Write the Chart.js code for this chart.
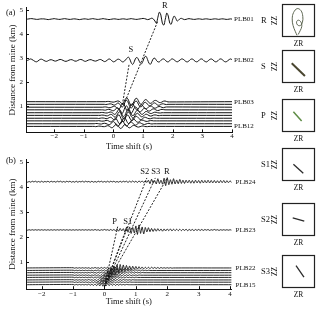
<!DOCTYPE html>
<html>
<head>
<meta charset="utf-8">
<script src="https://cdn.jsdelivr.net/npm/chart.js@4.4.1/dist/chart.umd.min.js"></script>
<style>
  html, body { margin: 0; padding: 0; background: #fff; }
  #wrap { position: relative; width: 320px; height: 310px; overflow: hidden; }
  #wrap canvas { position: absolute; }
</style>
</head>
<body>
<div id="wrap">
  <canvas id="panelA" width="270" height="156" style="left:0;top:0"></canvas>
  <canvas id="panelB" width="270" height="160" style="left:0;top:150px"></canvas>
</div>
<script>
// ---------- panel (a) : PLB01 - PLB12 ----------
const aNames = ['PLB01', 'PLB02', 'PLB03', 'PLB04', 'PLB05', 'PLB06', 'PLB07', 'PLB08', 'PLB09', 'PLB10', 'PLB11', 'PLB12'];
const aDist = [4.62, 2.9, 1.18, 1.07, 0.95, 0.84, 0.72, 0.61, 0.49, 0.38, 0.26, 0.15];
const aStart = [-2.9, -2.9, -0.26, -0.31, -0.36, -0.41, -0.46, -0.5, -0.55, -0.6, -0.65, -0.7];
// trace wiggle, 0.01 km, one value every 0.05 s from aStart
const aWiggle = [
  [0,1,2,2,1,0,-1,-1,0,1,1,1,0,-1,-2,-1,0,1,2,1,
   0,-1,-1,0,1,2,1,0,-1,-1,0,1,1,0,-1,-2,-1,0,1,1,
   0,-1,0,1,2,1,0,-1,-1,0,1,2,1,0,-1,-2,-1,0,1,1,
   0,-1,-1,0,1,1,0,-1,0,1,2,1,0,-1,-1,0,1,2,3,2,
   0,-2,-1,2,4,0,-8,-17,8,29,17,-17,-25,0,25,13,-17,-21,0,13,
   4,-8,-4,2,3,0,-2,-1,1,2,1,0,-1,-1,0,1,1,0,-1,0,
   1,1,0,-1,-1,0,1,1,0,-1,0,1,1,0,-1,-1,0,1,0],
  [0,3,6,4,0,-4,-6,-3,2,5,4,0,-3,-4,-1,2,3,1,-2,-3,
   -1,2,4,3,0,-3,-4,-2,1,3,3,0,-3,-3,0,3,4,2,-2,-4,
   -2,1,3,3,0,-2,-3,-1,2,4,2,-2,-5,-3,2,6,4,-2,-6,-4,
   1,5,4,-1,-6,-5,1,8,14,6,-10,-17,-6,9,12,2,-10,-14,-2,14,
   17,4,-12,-16,-4,8,9,0,-6,-6,0,5,6,1,-5,-6,-1,5,6,2,
   -3,-6,-3,2,6,5,0,-5,-6,-2,4,6,3,-3,-6,-4,2,6,5,-1,
   -5,-6,-1,4,6,3,-3,-6,-4,2,6,5,0,-5,-6,-2,3,6,3],
  [0,1,1,0,-1,-2,-1,1,3,2,-3,-9,-4,8,16,11,-4,-15,-13,0,12,14,4,-8,-11,-4,5,9,5,-3,-7,-5,1,5,5,1,-3,-4,-1,2,3,1,-1,-1],
  [0,-1,0,1,2,1,-2,-3,0,5,4,-5,-12,-6,9,17,10,-6,-16,-11,3,13,12,1,-9,-10,-2,7,8,2,-5,-7,-2,4,6,2,-3,-4,-1,2,2,0,-1,0],
  [0,1,1,0,-2,-2,0,3,4,0,-6,-8,1,13,15,3,-12,-16,-5,10,15,7,-6,-12,-7,4,10,6,-3,-7,-5,2,5,4,-1,-4,-3,1,3,2,-1,-2,0,1],
  [0,0,-1,-1,1,2,1,-2,-4,-1,5,9,2,-10,-16,-6,10,17,8,-8,-15,-9,5,12,8,-3,-9,-6,2,7,5,-2,-5,-4,1,4,3,-1,-3,-2,1,2,1,0],
  [0,1,1,0,-1,-1,1,3,2,-3,-7,-3,7,15,9,-7,-16,-11,5,15,12,-2,-12,-10,1,9,8,0,-6,-6,0,5,4,0,-3,-3,0,2,2,0,-1,-1,0,0],
  [0,0,1,1,0,-2,-2,1,4,3,-3,-8,-4,8,15,8,-8,-15,-8,7,14,9,-4,-11,-7,3,9,6,-2,-6,-4,2,5,3,-1,-3,-2,1,2,1,-1,-1,0,0],
  [0,-1,0,1,1,0,-2,-1,2,4,1,-5,-7,1,12,13,0,-13,-14,0,12,12,1,-9,-9,0,7,7,0,-5,-5,0,4,3,0,-2,-2,0,1,1,0,0,0,0],
  [0,0,1,0,-1,-1,0,2,2,-1,-4,-3,3,9,8,-3,-12,-11,2,13,11,-2,-11,-9,1,8,7,0,-5,-5,0,3,3,0,-2,-2,0,1,1,0,0,0,0,0],
  [0,1,1,0,-1,-1,1,2,1,-2,-4,-1,5,9,4,-6,-11,-5,7,12,5,-6,-10,-4,5,8,3,-4,-6,-2,3,4,1,-2,-3,-1,1,2,0,-1,0,0,0,0],
  [0,0,-1,0,1,1,0,-1,-1,1,3,2,-3,-6,-2,5,9,4,-5,-9,-4,5,8,3,-4,-6,-2,3,4,1,-2,-3,-1,1,2,0,-1,-1,0,0,0,0,0,0]
];
const aLabelled = ['PLB01', 'PLB02', 'PLB03', 'PLB12'];
const aPhases = ['S', 'R'];
const aPhaseT = [0.59, 1.73];
const aPhaseD = [3.33, 5.17];
const aRayFrom = [[0.3, 1.05], [0.35, 1.05]];
const aRayTo = [[0.53, 2.75], [1.5, 4.55]];

// ---------- panel (b) : PLB15 - PLB24 ----------
const bNames = ['PLB24', 'PLB23', 'PLB22', 'PLB21', 'PLB20', 'PLB19', 'PLB18', 'PLB17', 'PLB16', 'PLB15'];
const bDist = [4.2, 2.27, 0.75, 0.65, 0.56, 0.46, 0.37, 0.27, 0.18, 0.08];
const bStart = [-2.5, -2.5, -1, -1, -1, -1, -1, -1, -1, -1];
const bWiggle = [
  [2,-2,1,-2,2,-1,2,-2,1,-2,2,-2,1,-1,2,-2,2,-1,1,-2,
   2,-1,2,-2,1,-2,2,-1,2,-2,1,-2,2,-2,1,-1,2,-2,2,-1,
   1,-2,2,-2,1,-2,2,-1,2,-2,1,-2,2,-2,2,-1,2,-2,1,-2,
   2,-2,2,-1,2,-3,2,-2,3,-2,2,-3,3,-2,3,-3,4,-3,6,-8,
   10,-6,4,-9,12,-8,6,-10,14,-16,16,-12,8,-10,12,-9,7,-8,9,-7,
   6,-7,6,-5,6,-6,5,-6,6,-5,5,-6,6,-5,5,-5,6,-5,5,-5,
   5,-5,4,-5,5,-4,5,-5,4,-4,4,-4],
  [1,-1,1,-1,1,-1,1,-1,1,-1,1,-1,1,-1,1,-1,1,-1,1,-1,
   1,-1,1,-1,1,-1,1,-1,1,-1,1,-1,1,-1,1,-1,1,-1,1,-1,
   1,-1,1,-1,2,-1,1,-2,1,-1,2,-1,1,-2,2,-2,2,-3,4,-5,
   6,-4,5,-8,10,-9,12,-14,10,-12,16,-18,20,-14,12,-16,10,-8,9,-7,
   6,-6,5,-5,5,-4,4,-5,4,-4,4,-3,4,-4,3,-3,3,-3,3,-3,
   3,-2,3,-3,2,-2,2,-3,2,-2,2,-2,2,-2,2,-1,2,-2,1,-1,
   2,-1,1,-2,1,-1,1,-1,1,-1,1,-1],
  [1,-1,1,-1,1,-1,1,-1,1,-1,1,-2,1,-1,2,-1,1,-2,2,-2,
   2,-2,3,-3,4,-6,8,-10,12,-14,14,-12,12,-10,10,-9,8,-8,7,-6,
   6,-5,5,-4,4,-4,3,-3,3,-3,3,-2,2,-2,2,-2,2,-1,1,-1,1,-1,1,-1,0],
  [1,-1,1,-1,1,-1,1,-1,1,-1,1,-1,1,-2,1,-1,2,-2,2,-2,
   3,-3,5,-7,9,-11,12,-12,10,-9,8,-7,6,-6,5,-4,4,-4,3,-3,
   3,-2,2,-2,2,-1,1,-1,1,0],
  [1,-1,1,-1,1,-1,1,-1,1,-1,1,-1,2,-1,1,-2,2,-2,3,-3,
   4,-6,8,-10,11,-10,9,-8,7,-6,5,-5,4,-4,3,-3,3,-2,2,-2,
   2,-1,1,-1,1,0],
  [1,-1,1,-1,1,-1,1,-1,1,-1,1,-2,1,-1,2,-2,2,-3,3,-4,
   6,-8,10,-10,9,-8,7,-6,5,-5,4,-4,3,-3,2,-2,2,-2,1,-1,
   1,-1,1,0],
  [1,-1,1,-1,1,-1,1,-1,1,-1,1,-1,2,-2,2,-2,3,-4,5,-6,
   8,-9,9,-8,7,-6,5,-5,4,-4,3,-3,2,-2,2,-1,1,-1,1,-1,1,0],
  [1,-1,1,-1,1,-1,1,-1,1,-1,2,-1,1,-2,2,-3,3,-4,6,-7,
   8,-8,7,-6,5,-5,4,-4,3,-3,2,-2,2,-1,1,-1,1,-1,1,0],
  [1,-1,1,-1,1,-1,1,-1,1,-1,1,-2,2,-2,3,-4,5,-6,7,-7,
   7,-6,5,-5,4,-4,3,-3,2,-2,2,-1,1,-1,1,-1,1,0,0,0],
  [1,-1,1,-1,1,-1,1,-1,1,-1,2,-2,2,-3,3,-4,5,-5,6,-6,
   6,-5,5,-4,4,-3,3,-3,2,-2,2,-1,1,-1,1,0,0,0,0,0]
];
const bLabelled = ['PLB24', 'PLB23', 'PLB22', 'PLB15'];
const bPhases = ['P', 'S1', 'S2', 'S3', 'R'];
const bPhaseT = [0.32, 0.74, 1.28, 1.63, 1.99];
const bPhaseD = [2.59, 2.59, 4.59, 4.59, 4.59];
const bRayFrom = [[0, 0], [0, 0], [0, 0], [0, 0], [0, 0]];
const bRayTo = [[0.42, 2.4], [0.72, 2.4], [1.35, 4.35], [1.62, 4.35], [2.0, 4.35]];

// shared axis ticks
const xTicks = [-2, -1, 0, 1, 2, 3, 4];
const xTickLabels = ['\u22122', '\u22121', '0', '1', '2', '3', '4'];
const yTicks = [1, 2, 3, 4, 5];
const yTickLabels = ['1', '2', '3', '4', '5'];

// ---------- particle motion boxes (ZR vs ZZ) ----------
const boxNames = ['R', 'S', 'P', 'S1', 'S2', 'S3'];
const boxX = [
  [-0.09, -0.2, -0.33, -0.38, -0.3, -0.08, 0.15, 0.26, 0.24, 0.12, -0.05, -0.12, -0.02, 0.14, 0.2, 0.1, -0.02],
  [-0.41, 0.39],
  [-0.31, 0.19],
  [-0.31, 0.29],
  [-0.35, 0.35],
  [-0.15, 0.33]
];
const boxY = [
  [-0.9, -0.65, -0.3, 0.1, 0.48, 0.72, 0.6, 0.25, -0.1, -0.3, -0.28, -0.1, 0.02, -0.08, -0.35, -0.62, -0.85],
  [0.2, -0.58],
  [0.23, -0.33],
  [0.01, -0.53],
  [0.1, -0.1],
  [0.36, -0.34]
];
const boxColors = ['#5d6652', '#4a4630', '#5e8c45', '#2a2a2a', '#2a2a2a', '#2a2a2a'];
const boxWidths = [1, 2, 1.5, 1.3, 1.3, 1.3];
const boxTops = [4, 50, 99, 148, 203, 255];

const serif = '"Liberation Serif", "DejaVu Serif", serif';
const ink = '#111';

// label traces, phases and the panel letter
const traceLabels = {
  id: 'traceLabels',
  afterDatasetsDraw(chart, args, opts) {
    const { ctx, chartArea } = chart;
    const x = chart.scales.x, y = chart.scales.y;
    ctx.save();
    ctx.fillStyle = ink;
    ctx.textBaseline = 'middle';
    ctx.textAlign = 'left';
    ctx.font = opts.nameSize + 'px ' + serif;
    opts.names.forEach(function (name, i) {
      if (opts.shown.indexOf(name) < 0) return;
      ctx.fillText(name, x.right + opts.gap, y.getPixelForValue(opts.dist[i]));
    });
    ctx.textAlign = 'center';
    ctx.font = opts.phaseSize + 'px ' + serif;
    opts.phases.forEach(function (p, i) {
      ctx.fillText(p, x.getPixelForValue(opts.phaseT[i]), y.getPixelForValue(opts.phaseD[i]));
    });
    ctx.textAlign = 'left';
    ctx.font = '8.5px ' + serif;
    ctx.fillText(opts.tag, 6, chartArea.top + opts.tagDy);
    ctx.restore();
  }
};

// short tick marks pointing into the plot
const innerTicks = {
  id: 'innerTicks',
  afterDraw(chart) {
    const { ctx, chartArea: a } = chart;
    const x = chart.scales.x, y = chart.scales.y;
    ctx.save();
    ctx.strokeStyle = ink;
    ctx.lineWidth = 1;
    ctx.beginPath();
    x.ticks.forEach(function (t) {
      const px = Math.round(x.getPixelForValue(t.value)) + 0.5;
      ctx.moveTo(px, a.bottom);
      ctx.lineTo(px, a.bottom - 3);
    });
    y.ticks.forEach(function (t) {
      const py = Math.round(y.getPixelForValue(t.value)) + 0.5;
      ctx.moveTo(a.left, py);
      ctx.lineTo(a.left + 3, py);
    });
    ctx.stroke();
    ctx.restore();
  }
};

// frame and phase name for the small boxes
const boxFrame = {
  id: 'boxFrame',
  afterDraw(chart, args, opts) {
    const { ctx, chartArea: a } = chart;
    ctx.save();
    ctx.strokeStyle = '#222';
    ctx.lineWidth = 1.2;
    ctx.strokeRect(Math.round(a.left) + 0.5, Math.round(a.top) + 0.5, Math.round(a.width) - 1, Math.round(a.height) - 1);
    ctx.fillStyle = ink;
    ctx.font = '8.5px ' + serif;
    ctx.textBaseline = 'middle';
    ctx.fillText(opts.phase, 11, (a.top + a.bottom) / 2);
    ctx.restore();
  }
};

function traceData(dist, t0, wiggle, dt, xMin, xMax) {
  const pts = [{ x: xMin, y: dist }];
  wiggle.forEach(function (a, i) {
    pts.push({ x: t0 + i * dt, y: dist + a / 100 });
  });
  if (t0 + (wiggle.length - 1) * dt < xMax) pts.push({ x: xMax, y: dist });
  return pts;
}

function makePanel(id, p) {
  const datasets = p.dist.map(function (d, i) {
    return {
      data: traceData(d, p.start[i], p.wiggle[i], 0.05, p.xMin, p.xMax),
      borderColor: ink,
      borderWidth: p.lineWidth,
      pointRadius: 0,
      tension: p.tension,
      fill: false
    };
  });
  p.rayFrom.forEach(function (from, i) {
    datasets.push({
      data: [{ x: from[0], y: from[1] }, { x: p.rayTo[i][0], y: p.rayTo[i][1] }],
      borderColor: '#222',
      borderWidth: 1,
      borderDash: [2, 1.5],
      pointRadius: 0,
      tension: 0
    });
  });

  return new Chart(document.getElementById(id), {
    type: 'line',
    data: { datasets: datasets },
    plugins: [traceLabels, innerTicks],
    options: {
      responsive: false,
      animation: false,
      devicePixelRatio: 1,
      layout: { padding: { left: 0, top: p.padTop, right: p.padRight, bottom: 0 } },
      plugins: {
        legend: { display: false },
        tooltip: { enabled: false },
        traceLabels: {
          names: p.names, dist: p.dist, shown: p.shown, gap: p.nameGap, nameSize: p.nameSize,
          phases: p.phases, phaseT: p.phaseT, phaseD: p.phaseD, phaseSize: 8.5,
          tag: p.tag, tagDy: p.tagDy
        }
      },
      scales: {
        x: {
          type: 'linear',
          min: p.xMin,
          max: p.xMax,
          afterBuildTicks: function (s) { s.ticks = xTicks.map(function (v) { return { value: v }; }); },
          afterFit: function (s) { s.height = p.xAxisH; },
          ticks: {
            autoSkip: false, maxRotation: 0, padding: p.xTickPad, color: ink,
            font: { family: serif, size: 7 },
            callback: function (v, i) { return xTickLabels[i]; }
          },
          grid: { display: true, drawOnChartArea: false, drawTicks: false },
          border: { display: true, color: ink, width: 1 },
          title: {
            display: true, text: 'Time shift (s)', color: ink,
            font: { family: serif, size: 8.5 }, padding: { top: 0, bottom: p.xTitlePad }
          }
        },
        y: {
          type: 'linear',
          min: -0.1,
          max: 5.1,
          afterBuildTicks: function (s) { s.ticks = yTicks.map(function (v) { return { value: v }; }); },
          afterFit: function (s) { s.width = 26; },
          ticks: {
            padding: 3, color: ink,
            font: { family: serif, size: 7 },
            callback: function (v, i) { return yTickLabels[i]; }
          },
          grid: { display: true, drawOnChartArea: false, drawTicks: false },
          border: { display: true, color: ink, width: 1 },
          title: {
            display: true, text: 'Distance from mine (km)', color: ink,
            font: { family: serif, size: 9 }, padding: { top: 7.5, bottom: 0 }
          }
        }
      }
    }
  });
}

makePanel('panelA', {
  names: aNames, dist: aDist, start: aStart, wiggle: aWiggle, shown: aLabelled,
  phases: aPhases, phaseT: aPhaseT, phaseD: aPhaseD, rayFrom: aRayFrom, rayTo: aRayTo,
  xMin: -2.95, xMax: 4.0, tension: 0.3, lineWidth: 1,
  padTop: 7.6, padRight: 38, xAxisH: 23.6, xTickPad: 0, xTitlePad: 3.8,
  nameGap: 2, nameSize: 7, tag: '(a)', tagDy: 5
});

makePanel('panelB', {
  names: bNames, dist: bDist, start: bStart, wiggle: bWiggle, shown: bLabelled,
  phases: bPhases, phaseT: bPhaseT, phaseD: bPhaseD, rayFrom: bRayFrom, rayTo: bRayTo,
  xMin: -2.5, xMax: 4.05, tension: 0.15, lineWidth: 0.9,
  padTop: 9.2, padRight: 38.4, xAxisH: 20.8, xTickPad: 1, xTitlePad: 2.8,
  nameGap: 4, nameSize: 7, tag: '(b)', tagDy: 2
});

// particle motion boxes
const wrap = document.getElementById('wrap');
boxNames.forEach(function (name, i) {
  const cv = document.createElement('canvas');
  cv.width = 70;
  cv.height = 49;
  cv.style.left = '250px';
  cv.style.top = (boxTops[i] - 2) + 'px';
  wrap.appendChild(cv);
  new Chart(cv, {
    type: 'scatter',
    data: {
      datasets: [{
        data: boxX[i].map(function (x, k) { return { x: x, y: boxY[i][k] }; }),
        showLine: true,
        borderColor: boxColors[i],
        borderWidth: boxWidths[i],
        pointRadius: 0,
        tension: i === 0 ? 0.4 : 0
      }]
    },
    plugins: [boxFrame],
    options: {
      responsive: false,
      animation: false,
      devicePixelRatio: 1,
      layout: { padding: { left: 0, top: 2, right: 5, bottom: 0 } },
      plugins: { legend: { display: false }, tooltip: { enabled: false }, boxFrame: { phase: name } },
      scales: {
        x: {
          min: -1, max: 1,
          afterFit: function (s) { s.height = 14; },
          ticks: { display: false },
          grid: { display: false },
          border: { display: false },
          title: { display: true, text: 'ZR', color: ink, font: { family: serif, size: 7.5 }, padding: { top: 0, bottom: 2.3 } }
        },
        y: {
          min: -1, max: 1,
          afterFit: function (s) { s.width = 32; },
          ticks: { display: false },
          grid: { display: false },
          border: { display: false },
          title: { display: true, text: 'ZZ', color: ink, font: { family: serif, size: 7.5 }, padding: { top: 21, bottom: 0 } }
        }
      }
    }
  });
});
</script>
</body>
</html>
